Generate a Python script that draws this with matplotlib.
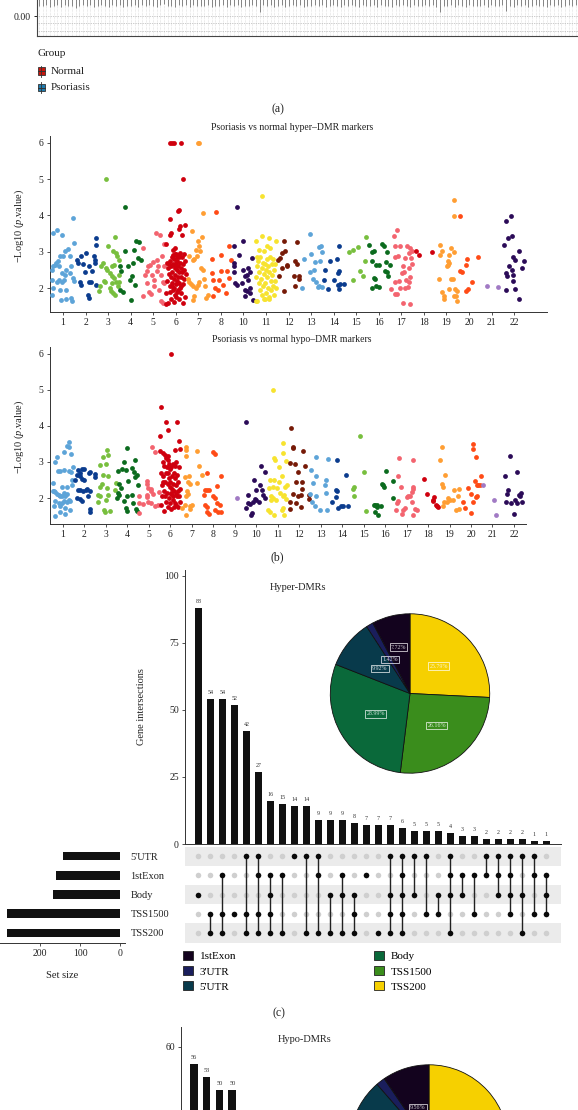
import numpy as np
import matplotlib
matplotlib.use('Agg')
import matplotlib.pyplot as plt
from matplotlib.patches import Rectangle, Patch
from matplotlib.lines import Line2D

plt.rcParams['font.family'] = ['Liberation Serif', 'DejaVu Serif']
plt.rcParams['mathtext.fontset'] = 'custom'
plt.rcParams['mathtext.rm'] = 'Liberation Serif'
plt.rcParams['mathtext.it'] = 'Liberation Serif:italic'

# ---------------- data ----------------
# panel (a): lower whisker ends of the (mostly cut off) box plots
whisker_low = [
    0.028, 0.026, 0.030, 0.024, 0.027, 0.029, 0.025, 0.031, 0.026, 0.028, 0.023, 0.027, 0.030, 0.026, 0.029,
    0.025, 0.028, 0.031, 0.027, 0.024, 0.029, 0.026, 0.030, 0.025, 0.028, 0.027, 0.031, 0.024, 0.029, 0.026,
    0.030, 0.027, 0.025, 0.029, 0.032, 0.026, 0.028, 0.024, 0.030, 0.027, 0.029, 0.025, 0.031, 0.026, 0.028,
    0.027, 0.030, 0.025, 0.028, 0.026, 0.031, 0.024, 0.029, 0.027, 0.030, 0.025, 0.028, 0.026, 0.029, 0.027,
    0.012, 0.029, 0.026, 0.031, 0.025, 0.028, 0.030, 0.024, 0.027, 0.029, 0.026, 0.031, 0.025, 0.028, 0.027,
    0.030, 0.026, 0.029, 0.024, 0.028, 0.031, 0.027, 0.025, 0.030, 0.026, 0.029, 0.027, 0.024, 0.031, 0.028,
    0.026, 0.029, 0.025, 0.030, 0.027, 0.028, 0.024, 0.031, 0.026, 0.029, 0.027, 0.025, 0.030, 0.028, 0.026,
    0.029, 0.027, 0.031, 0.025, 0.011, 0.028, 0.026, 0.030, 0.024, 0.029, 0.027, 0.025, 0.031, 0.026, 0.028,
    0.027, 0.030, 0.025, 0.029, 0.026, 0.028, 0.031, 0.013, 0.027, 0.025, 0.030, 0.026, 0.029, 0.024, 0.028,
    0.030, 0.026, 0.028, 0.025, 0.031, 0.027, 0.029, 0.024, 0.028, 0.030, 0.026, 0.029, 0.025, 0.027, 0.031,
]
group_names = ['Normal', 'Psoriasis']
group_colors = ['#C8160C', '#1F7BAE']

# panel (b): manhattan plots, (offset within chromosome, -log10 p)
chrom_colors = ['#5DA4D8', '#0B3C8E', '#78BF3E', '#0B6B1E', '#F3646F', '#CF000E',
                '#FF9E33', '#FF4B16', '#A17AC4', '#2B0B58', '#F7E32F', '#761A07']
hyper_chroms = [1, 2, 3, 4, 5, 6, 7, 8, 10, 11, 12, 13, 14, 15, 16, 17, 18, 19, 20, 21, 22]
hyper_points = [
    # 1
    [(-0.44, 3.52), (-0.27, 3.59), (-0.07, 3.47), (0.44, 3.93), (-0.49, 2.5), (-0.44, 2.6), (-0.37, 2.64),
     (-0.3, 2.69), (-0.22, 2.74), (-0.15, 2.87), (0.0, 2.87), (0.07, 3.01), (0.22, 3.08), (-0.18, 2.6),
     (-0.07, 2.41), (0.07, 2.37), (0.15, 2.5), (0.3, 2.41), (0.37, 2.6), (0.44, 2.28), (-0.47, 2.23),
     (-0.27, 2.18), (-0.18, 2.23), (-0.07, 2.18), (0.03, 2.23), (0.12, 1.95), (-0.15, 1.95), (-0.44, 2.0),
     (-0.47, 1.82), (-0.1, 1.66), (0.15, 1.71), (0.34, 1.72), (0.41, 1.63), (0.47, 2.2), (0.3, 2.87), (0.48, 3.24)],
    # 2
    [(-0.39, 2.78), (-0.34, 2.7), (-0.19, 2.87), (0.03, 2.97), (0.47, 3.38), (0.48, 3.18), (0.37, 2.87),
     (0.4, 2.78), (0.43, 2.69), (0.3, 2.46), (0.22, 2.18), (0.15, 2.18), (0.47, 2.09), (-0.27, 2.18),
     (-0.21, 2.09), (0.1, 1.82), (0.15, 1.72), (0.15, 2.6), (-0.12, 2.65), (-0.04, 2.45)],
    # 3
    [(-0.1, 5.0), (0.0, 3.15), (0.3, 3.4), (-0.22, 2.69), (-0.1, 2.55), (-0.04, 2.49), (0.22, 3.01),
     (0.34, 2.97), (0.37, 2.87), (0.19, 2.6), (0.25, 2.64), (0.07, 2.41), (0.15, 2.32), (0.27, 2.28),
     (0.34, 2.18), (0.47, 2.18), (0.46, 2.78), (-0.15, 2.16), (-0.37, 2.05), (-0.4, 1.93), (0.07, 2.0),
     (0.12, 1.91), (0.21, 1.86), (0.3, 1.82), (0.44, 2.05), (0.48, 2.37), (0.18, 2.14), (-0.3, 2.6), (-0.19, 2.2)],
    # 4
    [(-0.27, 4.24), (0.22, 3.29), (0.37, 3.26), (-0.27, 3.01), (0.15, 3.06), (0.1, 2.69), (-0.12, 2.6),
     (-0.04, 2.23), (0.07, 2.34), (-0.47, 2.62), (-0.44, 2.46), (-0.47, 1.95), (-0.34, 1.88), (0.03, 1.68),
     (0.18, 2.09), (0.33, 2.83), (0.47, 2.78)],
    # 5
    [(-0.47, 3.1), (0.12, 3.52), (0.3, 3.45), (0.47, 3.21), (-0.22, 2.6), (-0.3, 2.46), (-0.15, 2.63),
     (0.0, 2.71), (0.15, 2.78), (0.22, 2.62), (0.37, 2.87), (-0.07, 2.37), (0.03, 2.23), (0.15, 2.46),
     (0.34, 2.37), (0.44, 2.18), (0.48, 2.14), (-0.3, 2.14), (-0.18, 1.88), (-0.12, 1.83), (-0.44, 1.77),
     (0.27, 1.95), (0.33, 1.63), (0.44, 1.59), (0.48, 2.6), (-0.38, 2.35), (0.05, 2.05)],
    # 6
    [(-0.25, 6.0), (-0.15, 6.0), (-0.08, 6.0), (0.22, 6.0), (0.34, 5.0), (0.12, 4.16), (0.1, 4.12),
     (-0.25, 3.9), (0.42, 3.75), (0.19, 3.7), (0.16, 3.63), (-0.25, 3.47), (-0.22, 3.52), (0.27, 3.47),
     (-0.45, 3.21), (-0.03, 3.1), (-0.13, 3.06), (0.19, 2.97), (0.0, 2.95),
     (-0.4, 2.7), (-0.35, 2.55), (-0.38, 2.2), (-0.42, 1.85), (-0.3, 2.65), (-0.3, 2.4), (-0.28, 2.05),
     (-0.25, 1.9), (-0.25, 2.75), (-0.22, 2.3), (-0.2, 2.6), (-0.2, 1.7), (-0.18, 2.85), (-0.17, 2.15),
     (-0.15, 2.45), (-0.14, 1.95), (-0.12, 2.9), (-0.12, 2.65), (-0.1, 2.25), (-0.1, 1.62), (-0.08, 2.8),
     (-0.07, 2.0), (-0.05, 2.55), (-0.05, 1.8), (-0.03, 2.95), (-0.02, 2.35), (0.0, 2.7), (0.0, 1.75),
     (0.02, 2.1), (0.03, 2.85), (0.05, 2.5), (0.05, 1.9), (0.07, 2.75), (0.08, 2.3), (0.1, 2.6), (0.1, 1.95),
     (0.12, 2.85), (0.13, 2.15), (0.15, 2.45), (0.16, 1.7), (0.18, 2.7), (0.2, 2.0), (0.22, 2.55), (0.23, 2.3),
     (0.25, 1.85), (0.27, 2.85), (0.28, 2.45), (0.3, 2.1), (0.32, 2.65), (0.33, 1.6), (0.35, 2.5), (0.38, 2.25),
     (0.4, 2.75), (0.42, 1.75), (0.45, 2.4), (-0.33, 1.6), (-0.45, 1.55), (0.15, 2.9), (0.05, 2.2),
     (-0.15, 2.05), (0.25, 2.05), (-0.05, 2.6), (0.35, 2.95)],
    # 7
    [(-0.03, 6.0), (0.04, 6.0), (0.19, 4.07), (-0.3, 3.58), (-0.03, 3.29), (0.16, 3.4), (-0.1, 3.06),
     (0.04, 3.15), (0.09, 3.01), (-0.25, 2.78), (-0.18, 2.8), (-0.07, 2.87), (0.22, 2.51), (0.12, 2.55),
     (-0.4, 2.87), (-0.47, 2.25), (-0.4, 2.18), (-0.33, 2.12), (-0.25, 2.05), (-0.1, 2.0), (-0.03, 2.09),
     (0.01, 2.18), (-0.18, 1.77), (-0.25, 1.68), (0.34, 1.72), (0.41, 1.82), (0.31, 2.05), (0.27, 2.25)],
    # 8
    [(-0.22, 4.1), (0.37, 3.15), (-0.41, 2.8), (0.0, 2.92), (-0.4, 2.41), (0.0, 2.46), (0.27, 2.46),
     (-0.37, 2.23), (-0.25, 2.0), (-0.07, 2.23), (-0.15, 1.95), (-0.37, 1.77), (0.22, 1.86), (0.37, 2.28),
     (0.44, 2.78), (0.1, 2.09)],
    # 10
    [(-0.3, 4.24), (0.0, 3.31), (-0.4, 3.17), (-0.22, 2.92), (-0.44, 2.69), (-0.44, 2.6), (-0.44, 2.43),
     (0.0, 2.51), (0.22, 2.55), (0.3, 2.43), (0.15, 2.37), (0.07, 2.32), (0.22, 2.23), (0.37, 2.83),
     (-0.37, 2.14), (-0.27, 2.09), (-0.07, 2.14), (0.07, 1.95), (0.15, 1.91), (0.3, 1.86), (0.27, 2.0),
     (0.07, 1.77), (0.44, 1.68)],
    # 11
    [(-0.18, 4.53), (-0.2, 3.43), (0.12, 3.38), (-0.45, 3.29), (0.04, 3.15), (-0.33, 3.06), (-0.1, 3.01),
     (0.19, 3.1), (0.45, 3.29), (-0.46, 1.63),
     (-0.45, 2.3), (-0.42, 2.85), (-0.4, 2.6), (-0.38, 1.65), (-0.35, 2.75), (-0.33, 2.15), (-0.3, 2.45),
     (-0.28, 1.95), (-0.25, 2.85), (-0.22, 2.25), (-0.2, 2.55), (-0.18, 1.8), (-0.15, 2.7), (-0.13, 2.05),
     (-0.1, 2.4), (-0.08, 1.7), (-0.05, 2.65), (-0.03, 2.15), (0.0, 2.5), (0.0, 1.85), (0.03, 2.8), (0.05, 2.3),
     (0.08, 2.0), (0.1, 2.6), (0.12, 1.75), (0.15, 2.45), (0.17, 2.85), (0.2, 2.2), (0.22, 1.95), (0.25, 2.65),
     (0.27, 2.35), (0.3, 2.05), (0.32, 2.8), (0.35, 2.5), (0.37, 1.8), (0.4, 2.2), (0.42, 2.65), (0.45, 2.0),
     (-0.05, 1.7), (0.15, 1.7)],
    # 12
    [(-0.46, 2.78), (-0.38, 2.83), (-0.27, 2.97), (-0.19, 3.29), (-0.16, 3.01), (-0.09, 2.6), (-0.44, 2.32),
     (-0.3, 2.55), (-0.22, 1.91), (-0.07, 2.63), (0.22, 2.34), (0.3, 2.74), (0.37, 2.66), (0.37, 3.27),
     (0.44, 2.32), (0.47, 2.25), (0.3, 2.06)],
    # 13
    [(-0.07, 3.49), (-0.3, 2.8), (0.0, 2.95), (0.15, 2.71), (0.37, 3.12), (0.44, 3.15), (0.47, 2.99),
     (0.41, 2.75), (-0.07, 2.43), (0.12, 2.51), (0.07, 2.26), (0.22, 2.18), (0.37, 2.06), (0.48, 2.04),
     (-0.4, 2.0), (0.32, 2.03)],
    # 14
    [(0.25, 3.17), (-0.15, 2.75), (0.15, 2.8), (-0.37, 2.51), (-0.44, 2.21), (0.18, 2.41), (0.25, 2.46),
     (0.03, 2.23), (-0.27, 1.97), (0.21, 2.09), (0.3, 2.11), (0.44, 2.11), (0.25, 1.98)],
    # 15
    [(-0.3, 2.98), (-0.15, 3.06), (0.1, 3.13), (0.43, 3.4), (0.4, 2.74), (0.15, 2.46), (0.32, 2.32), (-0.15, 2.22)],
    # 16
    [(-0.43, 3.2), (-0.28, 2.98), (-0.21, 3.01), (0.16, 3.21), (0.21, 3.17), (0.38, 2.98), (-0.31, 2.75),
     (-0.13, 2.64), (0.01, 2.64), (0.31, 2.72), (0.48, 2.64), (0.27, 2.46), (0.35, 2.44), (0.43, 2.34),
     (-0.21, 2.28), (-0.18, 2.25), (-0.28, 2.0), (-0.13, 2.06), (0.01, 2.02)],
    # 17
    [(-0.19, 3.61), (-0.34, 3.43), (-0.27, 3.15), (-0.07, 3.15), (-0.16, 2.89), (-0.27, 2.86), (0.25, 3.15),
     (0.4, 3.09), (0.35, 2.97), (0.48, 3.01), (0.18, 2.83), (0.43, 2.83), (0.07, 2.62), (0.32, 2.55),
     (0.13, 2.43), (0.03, 2.41), (0.22, 2.23), (0.4, 2.3), (-0.27, 2.18), (-0.12, 2.2), (0.32, 2.16),
     (-0.44, 1.97), (-0.3, 1.84), (-0.19, 1.84), (-0.04, 2.0), (0.18, 2.0), (0.3, 2.04), (0.07, 1.6),
     (0.4, 1.56), (0.47, 2.66)],
    # 18
    [(-0.34, 3.03), (-0.22, 2.92), (0.35, 3.0)],
    # 19
    [(0.35, 4.42), (0.32, 3.98), (-0.27, 3.2), (-0.19, 3.01), (-0.3, 2.92), (0.21, 3.09), (0.1, 2.9),
     (0.32, 2.98), (0.06, 2.75), (0.03, 2.6), (0.13, 2.69), (0.07, 2.64), (0.22, 2.26), (0.28, 2.26),
     (-0.32, 2.25), (0.1, 1.98), (0.4, 1.97), (0.48, 1.93), (-0.19, 1.89), (-0.12, 1.77), (-0.09, 1.71),
     (0.32, 1.79), (0.44, 1.77), (0.47, 1.63)],
    # 20
    [(-0.4, 3.98), (-0.07, 2.81), (0.41, 2.85), (-0.15, 2.63), (-0.4, 2.46), (-0.32, 2.43), (0.12, 2.16),
     (-0.03, 1.98), (-0.15, 1.91)],
    # 21
    [(-0.22, 2.06), (0.3, 2.02)],
    # 22
    [(-0.13, 3.98), (-0.35, 3.84), (-0.28, 3.38), (-0.1, 3.43), (-0.43, 3.18), (0.24, 3.01), (-0.06, 2.85),
     (0.04, 2.78), (0.44, 2.74), (-0.21, 2.6), (-0.1, 2.51), (0.34, 2.55), (-0.35, 2.41), (-0.32, 2.32),
     (-0.03, 2.37), (-0.06, 2.2), (-0.35, 1.94), (0.04, 1.98), (0.24, 1.71)],
]

hypo_chroms = list(range(1, 23))
hypo_points = [
    # 1
    [(0.26, 3.56), (0.19, 3.45), (0.3, 3.42), (0.03, 3.28), (0.39, 3.23), (-0.28, 3.14), (-0.36, 2.99),
     (-0.25, 2.74), (-0.16, 2.74), (0.03, 2.77), (0.26, 2.74), (0.37, 2.71), (0.47, 2.85), (0.42, 2.51),
     (0.42, 2.37), (-0.48, 2.42), (-0.43, 2.19), (-0.36, 2.16), (-0.28, 2.12), (-0.2, 2.09), (-0.12, 2.05),
     (-0.05, 2.06), (0.03, 2.14), (0.11, 2.05), (0.19, 2.12), (-0.36, 1.91), (-0.2, 1.86), (-0.05, 1.86),
     (0.03, 1.91), (0.19, 1.88), (0.26, 1.95), (0.34, 1.91), (-0.43, 1.77), (-0.12, 1.77), (0.11, 1.72),
     (-0.36, 1.51), (-0.16, 1.6), (0.11, 1.56), (0.34, 1.66), (0.19, 2.32), (-0.05, 2.31), (-0.47, 2.2)],
    # 2
    [(-0.31, 2.77), (-0.23, 2.69), (-0.37, 2.65), (-0.11, 2.8), (0.0, 2.8), (0.2, 2.69), (0.28, 2.71),
     (0.48, 2.67), (-0.19, 2.6), (-0.11, 2.53), (-0.03, 2.51), (-0.42, 2.51), (-0.31, 2.21), (-0.19, 2.21),
     (-0.06, 2.19), (0.05, 2.23), (0.12, 2.25), (0.25, 2.19), (0.16, 2.06), (-0.34, 2.0), (-0.19, 1.97),
     (-0.11, 1.91), (0.25, 1.69), (0.28, 1.61), (0.48, 2.58)],
    # 3
    [(0.06, 3.34), (0.11, 3.2), (-0.16, 3.13), (-0.28, 2.93), (0.0, 2.94), (-0.12, 2.65), (0.11, 2.6),
     (-0.2, 2.39), (0.03, 2.28), (-0.28, 2.31), (-0.36, 2.09), (-0.28, 2.05), (-0.39, 1.89), (0.11, 2.09),
     (0.0, 1.95), (-0.09, 1.66), (-0.05, 1.6), (0.19, 1.63), (0.42, 2.23), (0.47, 2.42)],
    # 4
    [(0.0, 3.39), (-0.16, 2.99), (-0.26, 2.81), (-0.06, 2.79), (0.2, 2.83), (0.36, 3.06), (0.31, 2.71),
     (0.43, 2.65), (0.36, 2.58), (0.05, 2.46), (-0.42, 2.74), (-0.37, 2.4), (-0.31, 2.28), (-0.42, 2.14),
     (-0.47, 2.0), (-0.37, 2.09), (-0.03, 2.06), (-0.16, 1.91), (0.2, 2.09), (0.47, 2.37), (0.28, 1.86),
     (-0.06, 1.72), (-0.03, 1.63), (0.4, 1.69), (0.43, 1.63)],
    # 5
    [(0.16, 3.41), (0.28, 3.27), (-0.11, 2.46), (-0.08, 2.4), (-0.03, 2.28), (0.08, 2.25), (0.12, 2.19),
     (-0.45, 2.05), (-0.11, 2.09), (0.2, 2.12), (0.48, 2.16), (-0.45, 1.86), (-0.26, 1.84), (-0.03, 1.88),
     (0.28, 1.77), (-0.48, 1.58), (0.12, 1.86), (0.43, 1.82), (-0.08, 2.03)],
    # 6
    [(0.03, 6.0), (-0.42, 4.53), (-0.22, 4.11), (0.33, 4.11), (-0.12, 3.9), (-0.48, 3.71), (0.42, 3.59),
     (0.45, 3.36), (0.22, 3.34), (-0.46, 3.31), (-0.33, 3.25), (-0.25, 3.2), (-0.09, 3.16),
     (-0.42, 2.7), (-0.4, 2.35), (-0.45, 1.8), (-0.38, 2.05), (-0.35, 3.0), (-0.33, 2.6), (-0.3, 1.65),
     (-0.3, 2.2), (-0.28, 2.9), (-0.25, 2.45), (-0.22, 1.9), (-0.2, 3.1), (-0.2, 2.7), (-0.18, 2.15),
     (-0.15, 2.85), (-0.13, 2.4), (-0.12, 1.75), (-0.1, 3.05), (-0.08, 2.55), (-0.07, 2.0), (-0.05, 2.95),
     (-0.03, 2.3), (-0.02, 1.85), (0.0, 2.8), (0.0, 2.45), (0.02, 2.1), (0.04, 1.7), (0.05, 2.85), (0.06, 2.6),
     (0.08, 2.25), (0.1, 1.95), (0.1, 2.95), (0.12, 2.4), (0.14, 2.05), (0.15, 1.75), (0.17, 2.7), (0.18, 2.2),
     (0.2, 1.85), (0.22, 2.55), (0.24, 2.1), (0.25, 3.0), (0.27, 2.35), (0.28, 1.8), (0.3, 2.65), (0.32, 2.05),
     (0.34, 2.45), (0.35, 1.75), (0.37, 2.2), (0.4, 2.85), (0.42, 2.05), (0.44, 1.9), (0.45, 2.25),
     (-0.25, 2.05), (0.05, 2.15), (-0.1, 2.7), (0.2, 2.9), (-0.35, 2.45)],
    # 7
    [(-0.28, 3.41), (-0.26, 3.34), (0.22, 3.31), (-0.25, 3.16), (-0.33, 2.58), (-0.12, 2.6), (-0.17, 2.44),
     (-0.09, 2.4), (-0.22, 2.19), (-0.17, 2.12), (-0.25, 2.06), (-0.31, 1.82), (-0.09, 1.77), (0.03, 1.8),
     (-0.48, 1.72), (-0.29, 1.54), (-0.09, 1.69), (0.34, 2.88), (0.47, 2.65), (0.25, 2.42)],
    # 8
    [(-0.03, 3.27), (0.09, 3.22), (0.34, 2.62), (-0.28, 2.69), (-0.39, 2.21), (-0.28, 2.23), (-0.22, 2.23),
     (-0.43, 2.09), (0.0, 2.06), (0.08, 1.99), (0.16, 2.34), (-0.39, 1.82), (-0.28, 1.75), (0.31, 1.82),
     (0.16, 1.86), (0.08, 1.66), (0.23, 1.6), (0.34, 1.6), (-0.31, 1.6), (-0.19, 1.56)],
    # 9
    [(0.11, 2.0)],
    # 10
    [(-0.47, 4.1), (0.23, 2.88), (-0.12, 2.51), (0.39, 2.72), (0.16, 2.35), (0.0, 2.23), (0.28, 2.23),
     (0.31, 2.09), (-0.39, 2.09), (0.0, 1.95), (0.12, 1.89), (0.42, 1.99), (-0.39, 1.86), (-0.16, 1.88),
     (-0.08, 1.97), (-0.47, 1.72), (-0.19, 1.58), (-0.23, 1.54), (-0.31, 1.84)],
    # 11
    [(-0.2, 5.0), (0.26, 3.53), (-0.16, 3.11), (-0.11, 3.05), (0.39, 3.02), (0.26, 3.25), (0.05, 2.86),
     (-0.36, 2.51), (-0.16, 2.51), (0.2, 2.6), (-0.42, 2.28), (-0.23, 2.32), (-0.05, 2.28), (0.36, 2.32),
     (0.42, 2.37), (0.11, 2.14), (0.23, 2.06), (0.31, 2.09), (-0.2, 2.0), (-0.08, 1.95), (-0.31, 2.05),
     (-0.45, 1.68), (-0.36, 1.6), (-0.16, 1.54), (0.2, 1.66), (0.26, 1.72), (0.31, 1.54), (0.39, 1.97),
     (0.08, 2.45), (-0.3, 1.95)],
    # 12
    [(-0.36, 3.93), (-0.31, 3.38), (-0.28, 3.42), (0.16, 3.31), (-0.43, 2.96), (-0.2, 2.94), (0.26, 2.88),
     (-0.05, 2.72), (-0.16, 2.44), (0.11, 2.44), (0.11, 2.26), (0.06, 2.09), (-0.05, 2.06), (-0.28, 2.12),
     (-0.16, 1.86), (-0.43, 1.89), (-0.43, 1.7), (0.06, 1.74), (0.47, 2.09), (0.47, 1.97)],
    # 13
    [(-0.23, 3.14), (0.34, 3.08), (-0.43, 2.79), (-0.2, 2.6), (0.26, 2.51), (-0.36, 2.42), (0.19, 2.35),
     (0.23, 2.14), (-0.48, 2.11), (-0.23, 2.06), (-0.39, 1.88), (-0.28, 1.78), (-0.05, 1.66), (0.29, 1.66)],
    # 14
    [(-0.26, 3.06), (0.17, 2.65), (-0.29, 2.23), (-0.25, 2.19), (-0.31, 2.02), (-0.47, 1.89), (-0.19, 1.72),
     (-0.06, 1.77), (0.05, 1.77), (0.25, 1.77)],
    # 15
    [(-0.17, 3.71), (0.0, 2.71), (-0.43, 2.3), (-0.48, 2.26), (-0.46, 2.06), (0.11, 1.63)],
    # 16
    [(-0.5, 1.8), (-0.45, 1.8), (-0.48, 1.6), (-0.4, 1.8), (-0.36, 1.74), (-0.33, 1.52), (-0.17, 1.79),
     (0.03, 2.74), (-0.14, 2.4), (-0.09, 2.35), (-0.05, 2.3), (0.37, 2.46), (0.37, 2.0)],
    # 17
    [(-0.36, 3.11), (0.28, 3.05), (-0.39, 2.6), (-0.26, 2.32), (0.31, 2.32), (0.28, 2.26), (0.23, 2.17),
     (0.16, 2.05), (0.08, 2.05), (0.0, 2.03), (-0.39, 1.91), (-0.47, 1.86), (0.23, 1.89), (-0.08, 1.72),
     (-0.16, 1.68), (-0.23, 1.56), (0.31, 1.54), (0.39, 1.69), (0.47, 1.66), (-0.48, 1.68)],
    # 18
    [(-0.19, 2.53), (-0.05, 2.12), (0.25, 1.91), (0.29, 2.03), (0.36, 1.81), (0.43, 1.77), (0.47, 1.75),
     (0.22, 1.95)],
    # 19
    [(-0.33, 3.42), (-0.43, 3.05), (-0.2, 2.63), (-0.36, 2.4), (-0.31, 2.31), (-0.28, 1.89), (-0.12, 1.89),
     (-0.31, 1.77), (-0.05, 2.0), (0.03, 1.95), (0.16, 1.95), (0.22, 2.21), (0.42, 2.26), (0.39, 2.05),
     (0.31, 1.68), (0.42, 1.7)],
    # 20
    [(0.11, 3.51), (0.11, 3.37), (0.23, 3.14), (-0.12, 2.28), (0.19, 2.48), (0.26, 2.35), (0.34, 2.35),
     (0.42, 2.35), (0.47, 2.62), (0.0, 2.12), (0.26, 2.06), (0.23, 2.03), (0.08, 1.88), (0.0, 1.58),
     (-0.39, 1.89), (-0.28, 1.72)],
    # 21
    [(-0.42, 2.35), (0.05, 1.95), (0.17, 1.52)],
    # 22
    [(-0.19, 3.16), (-0.42, 2.62), (0.12, 2.72), (-0.26, 2.23), (-0.34, 2.12), (-0.37, 1.89), (-0.14, 1.86),
     (0.05, 1.95), (0.12, 1.86), (0.25, 2.08), (0.31, 2.14), (0.28, 2.05), (0.39, 1.89), (0.02, 1.56)],
]

# panel (c): upset plot of hyper-DMR genes
set_names = ["5'UTR", '1stExon', 'Body', 'TSS1500', 'TSS200']
hyper_counts = [88, 54, 54, 52, 42, 27, 16, 15, 14, 14, 9, 9, 9, 8, 7, 7, 7, 6, 5, 5, 5, 4, 3, 3, 2, 2, 2, 2, 1, 1]
hyper_sets = [
    ['Body'], ['TSS1500', 'TSS200'], ['1stExon', 'TSS1500', 'TSS200'], ['TSS1500'],
    ["5'UTR", 'TSS1500', 'TSS200'], ["5'UTR", '1stExon', 'TSS1500', 'TSS200'],
    ['1stExon', 'Body', 'TSS1500', 'TSS200'], ['1stExon', 'TSS200'], ["5'UTR"], ["5'UTR", 'TSS200'],
    ["5'UTR", '1stExon', 'TSS200'], ['Body', 'TSS200'], ['1stExon', 'Body', 'TSS200'],
    ['Body', 'TSS1500', 'TSS200'], ['1stExon'], ['TSS200'], ["5'UTR", 'Body', 'TSS1500', 'TSS200'],
    ["5'UTR", '1stExon', 'Body', 'TSS1500', 'TSS200'], ["5'UTR", 'Body'], ["5'UTR", 'TSS1500'],
    ['Body', 'TSS1500'], ["5'UTR", '1stExon', 'Body', 'TSS200'], ['1stExon', 'Body'], ['1stExon', 'TSS1500'],
    ["5'UTR", '1stExon'], ["5'UTR", '1stExon', 'Body'], ["5'UTR", '1stExon', 'Body', 'TSS1500'],
    ["5'UTR", 'Body', 'TSS200'], ["5'UTR", '1stExon', 'TSS1500'], ['1stExon', 'Body', 'TSS1500'],
]

# pies (clockwise from 12 o'clock)
pie_order = ['TSS200', 'TSS1500', 'Body', "5'UTR", "3'UTR", '1stExon']
pie_colors = {'1stExon': '#13031E', "3'UTR": '#1A1E5C', "5'UTR": '#083A4B',
              'Body': '#0A693A', 'TSS1500': '#3A8D1C', 'TSS200': '#F6D000'}
hyper_pie = [25.79, 26.16, 28.99, 9.92, 1.42, 7.72]
hypo_pie = [26.50, 22.40, 28.50, 11.20, 1.84, 9.56]
legend_order = ['1stExon', "3'UTR", "5'UTR", 'Body', 'TSS1500', 'TSS200']

# panel (d) top: first hypo-DMR intersections
hypo_counts = [56, 53, 50, 50]

# ---------------- drawing ----------------
W, H = 578, 1110
fig = plt.figure(figsize=(W / 100, H / 100), dpi=100)
TXT = '#222222'


def rect(l, t, r, b):
    return [l / W, 1 - b / H, (r - l) / W, (b - t) / H]


def fx(x):
    return x / W


def fy(y):
    return 1 - y / H


def style(ax, labelsize=7):
    for s in ['top', 'right']:
        ax.spines[s].set_visible(False)
    for s in ['left', 'bottom']:
        ax.spines[s].set_color('#333333')
        ax.spines[s].set_linewidth(0.7)
    ax.tick_params(length=2.5, width=0.6, color='#333333', labelsize=labelsize,
                   labelcolor=TXT, pad=2)


# ---- (a) tail of box plot panel ----
ax_a = fig.add_axes(rect(37, -200, 600, 36))
n_box = len(whisker_low)
ax_a.vlines(np.arange(n_box), -0.06, 0.6, color='#c4c4c4', lw=0.4, linestyles=(0, (1, 1.5)))
for yv in [0.0, -0.02, -0.04]:
    ax_a.axhline(yv, color='#9a9a9a', lw=0.5, ls=(0, (1, 1.5)))
ax_a.vlines(np.arange(n_box), whisker_low, 0.6, color='#5a5a5a', lw=0.5)
ax_a.set_xlim(-0.5, 152.5)
ax_a.set_ylim(-0.054, 0.584)
ax_a.set_xticks([])
ax_a.set_yticks([0.0])
ax_a.set_yticklabels(['0.00'])
for s in ax_a.spines.values():
    s.set_color('#444444')
    s.set_linewidth(0.8)
ax_a.tick_params(length=2.5, width=0.6, labelsize=7, labelcolor=TXT, pad=2)

fig.text(fx(37), fy(54), 'Group', fontsize=8, color=TXT, ha='left', va='center')
for gi, (gname, gcol) in enumerate(zip(group_names, group_colors)):
    yc = 71 + gi * 16.5
    fig.add_artist(Line2D([fx(41), fx(41)], [fy(yc - 5.5), fy(yc + 5.5)],
                          transform=fig.transFigure, color='#333333', lw=0.6))
    fig.add_artist(Rectangle((fx(37.5), fy(yc + 3.5)), 7 / W, 7 / H, transform=fig.transFigure,
                             facecolor=gcol, edgecolor='#333333', lw=0.6))
    fig.add_artist(Line2D([fx(37.5), fx(44.5)], [fy(yc), fy(yc)],
                          transform=fig.transFigure, color='#333333', lw=0.7))
    fig.text(fx(51), fy(yc), gname, fontsize=8, color=TXT, ha='left', va='center')

fig.text(fx(278), fy(109), '(a)', fontsize=8.5, color=TXT, ha='center', va='center')


# ---- (b) manhattan plots ----
def manhattan(box, chroms, points, xlim, ylim, title, title_y, ylab_y):
    ax = fig.add_axes(rect(*box))
    for k, (ch, pts) in enumerate(zip(chroms, points)):
        dx, yy = zip(*pts)
        ax.scatter(np.array(dx) + k + 1, yy, s=12, color=chrom_colors[(ch - 1) % 12],
                   linewidths=0, zorder=3)
    ax.set_xticks(range(1, len(chroms) + 1))
    ax.set_xticklabels([str(c) for c in chroms])
    ax.set_yticks([2, 3, 4, 5, 6])
    ax.set_xlim(*xlim)
    ax.set_ylim(*ylim)
    style(ax)
    fig.text(fx(292), fy(title_y), title, fontsize=7, color=TXT, ha='center', va='center')
    fig.text(fx(19), fy(ylab_y), r'$-$Log10 ($\it{p}$.value)', fontsize=7.5, color=TXT,
             rotation=90, ha='center', va='center')
    return ax


manhattan((50, 136, 547, 312), hyper_chroms, hyper_points, (0.42, 22.46), (1.34, 6.19),
          'Psoriasis vs normal hyper\u2013DMR markers', 128, 226)
manhattan((50, 347, 526, 524), hypo_chroms, hypo_points, (0.395, 22.56), (1.28, 6.19),
          'Psoriasis vs normal hypo\u2013DMR markers', 339, 437)
fig.text(fx(277), fy(557), '(b)', fontsize=8.5, color=TXT, ha='center', va='center')

# ---- (c) upset plot ----
n_int = len(hyper_counts)
ax_bar = fig.add_axes(rect(185, 570, 561, 844))
ax_bar.bar(range(n_int), hyper_counts, width=0.6, color='#111111', zorder=3)
for i, c in enumerate(hyper_counts):
    ax_bar.text(i, c + 1.5, str(c), ha='center', va='bottom', fontsize=4.3, color='#333333')
ax_bar.set_xlim(-1.11, 30.22)
ax_bar.set_ylim(0, 102.2)
ax_bar.set_yticks([0, 25, 50, 75, 100])
ax_bar.set_xticks([])
style(ax_bar)
ax_bar.set_ylabel('Gene intersections', fontsize=7.5, color=TXT)
ax_bar.yaxis.set_label_coords((146 - 185) / 376, 0.5)
fig.text(fx(298), fy(587), 'Hyper-DMRs', fontsize=7.5, color=TXT, ha='center', va='center')

ax_m = fig.add_axes(rect(185, 846.5, 561, 942.5))
for r in range(0, len(set_names), 2):
    ax_m.axhspan(r - 0.5, r + 0.5, color='#EBEBEB', lw=0, zorder=0)
for i, members in enumerate(hyper_sets):
    rows = [set_names.index(m) for m in members]
    ax_m.scatter([i] * len(set_names), range(len(set_names)), s=16, color='#CFCFCF', linewidths=0, zorder=2)
    if len(rows) > 1:
        ax_m.plot([i, i], [min(rows), max(rows)], color='#222222', lw=1.0, zorder=3)
    ax_m.scatter([i] * len(rows), rows, s=16, color='#0A0A0A', linewidths=0, zorder=4)
ax_m.set_xlim(-1.11, 30.22)
ax_m.set_ylim(len(set_names) - 0.5, -0.5)
ax_m.axis('off')

set_sizes = [sum(c for c, m in zip(hyper_counts, hyper_sets) if s in m) for s in set_names]
ax_s = fig.add_axes(rect(0, 846.5, 125, 942.5))
ax_s.barh(range(len(set_names)), set_sizes, height=0.45, color='#111111')
ax_s.set_ylim(len(set_names) - 0.5, -0.5)
ax_s.set_xlim(300, -12.5)
ax_s.set_xticks([200, 100, 0])
ax_s.yaxis.tick_right()
ax_s.set_yticks(range(len(set_names)))
ax_s.set_yticklabels(set_names)
style(ax_s)
ax_s.spines['left'].set_visible(False)
ax_s.tick_params(axis='y', length=0, pad=4, labelsize=7.5)
fig.text(fx(62), fy(976), 'Set size', fontsize=7.5, color=TXT, ha='center', va='center')


def pie_panel(box, vals, label_r, show):
    ax = fig.add_axes(rect(*box))
    wedges, _ = ax.pie(vals, colors=[pie_colors[n] for n in pie_order], startangle=90,
                       counterclock=False, radius=1,
                       wedgeprops=dict(edgecolor='#111111', linewidth=0.6))
    for w, v, name, r in zip(wedges, vals, pie_order, label_r):
        if name not in show:
            continue
        ang = np.deg2rad((w.theta1 + w.theta2) / 2)
        base = np.array(matplotlib.colors.to_rgb(pie_colors[name]))
        light = 0.2 * base + 0.8
        ax.text(r * np.cos(ang), r * np.sin(ang), f'{v:.2f}%', fontsize=4.3, color=light,
                ha='center', va='center',
                bbox=dict(boxstyle='square,pad=0.2', fc='none', ec=light, lw=0.6))
    ax.set_xlim(-1.01, 1.01)
    ax.set_ylim(-1.01, 1.01)
    ax.set_aspect('equal')
    ax.axis('off')
    return ax


pie_panel((329.5, 613, 490.5, 774), hyper_pie, [0.5, 0.52, 0.5, 0.49, 0.49, 0.6], pie_order)

handles = [Patch(facecolor=pie_colors[n], edgecolor='#222222', lw=0.6) for n in legend_order]
for col, x0 in enumerate([183, 374]):
    fig.legend(handles[col * 3:col * 3 + 3], legend_order[col * 3:col * 3 + 3], loc='upper left',
               bbox_to_anchor=(fx(x0), fy(951)), frameon=False, fontsize=8, handlelength=0.9,
               handleheight=0.9, handletextpad=0.6, labelspacing=0.42, borderpad=0, borderaxespad=0)

fig.text(fx(279), fy(1013), '(c)', fontsize=8.5, color=TXT, ha='center', va='center')

# ---- (d) top of hypo upset ----
ax_hb = fig.add_axes(rect(181, 1027, 560, 1307))
ax_hb.bar(range(len(hypo_counts)), hypo_counts, width=0.6, color='#111111')
for i, c in enumerate(hypo_counts):
    ax_hb.text(i, c + 1.0, str(c), ha='center', va='bottom', fontsize=4.6, color='#333333')
ax_hb.set_xlim(-0.98, 28.4)
ax_hb.set_ylim(0, 64.6)
ax_hb.set_yticks([60])
ax_hb.set_xticks([])
style(ax_hb)
fig.text(fx(305), fy(1039), 'Hypo-DMRs', fontsize=7.5, color=TXT, ha='center', va='center')
pie_panel((349, 1064, 509, 1224), hypo_pie, [0.5, 0.5, 0.5, 0.5, 0.5, 0.48], ['1stExon'])

fig.savefig('out.png', dpi=100)
